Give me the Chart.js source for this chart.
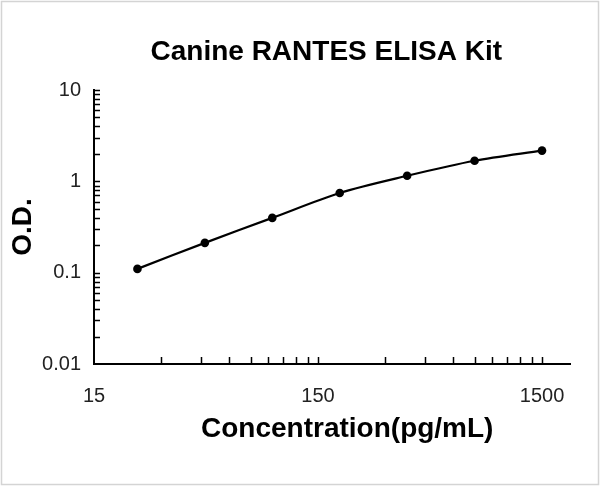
<!DOCTYPE html>
<html>
<head>
<meta charset="utf-8">
<script src="https://cdn.jsdelivr.net/npm/chart.js@4"></script>
<style>
  html, body { margin:0; padding:0; background:#fff; }
  canvas { display:block; }
</style>
</head>
<body>
<canvas id="c" width="600" height="486"></canvas>
<script>
// standard curve readings
const conc = [23.44, 46.88, 93.75, 187.5, 375, 750, 1500];
const od   = [0.110, 0.212, 0.398, 0.746, 1.15, 1.68, 2.17];

// axis ticks
const xMajor = [15, 150, 1500];
const xMinor = [30, 45, 60, 75, 90, 105, 120, 135, 300, 450, 600, 750, 900, 1050, 1200, 1350];
const yMajor = [0.01, 0.1, 1, 10];
const yMinor = [0.02, 0.03, 0.04, 0.05, 0.06, 0.07, 0.08, 0.09,
                0.2, 0.3, 0.4, 0.5, 0.6, 0.7, 0.8, 0.9,
                2, 3, 4, 5, 6, 7, 8, 9];

const chartTitle = 'Canine RANTES ELISA Kit';
const xTitle = 'Concentration(pg/mL)';
const yTitle = 'O.D.';

const FAM = '"Liberation Sans", Arial, sans-serif';
const tickFont = { family:FAM, size:20 };
const boldFont = s => ({ family:FAM, size:s, weight:'bold' });

const setTicks = (major, minor) => scale => {
  scale.ticks = [...major, ...minor].sort((a,b)=>a-b).map(v => ({ value:v, major: major.includes(v) }));
};

// white page + thin grey frame like the exported image
const frame = {
  id:'frame',
  beforeDraw(chart){
    const c = chart.ctx;
    c.save();
    c.fillStyle = '#fff';
    c.fillRect(0, 0, chart.width, chart.height);
    c.strokeStyle = '#d4d4d4';
    c.lineWidth = 1.5;
    c.strokeRect(1.5, 1.5, chart.width - 3, chart.height - 3);
    c.restore();
  }
};

// chart title and x title sit a little right of the plot centre in the original
const headings = {
  id:'headings',
  afterDraw(chart){
    const c = chart.ctx, a = chart.chartArea;
    c.save();
    c.fillStyle = '#000';
    c.textAlign = 'center';
    c.textBaseline = 'middle';
    c.font = `bold 28px ${FAM}`;
    c.fillText(chartTitle, a.left + (a.right - a.left) * 0.488, a.top - 38);
    c.fillText(xTitle, a.left + (a.right - a.left) * 0.532, a.bottom + 65);
    c.restore();
  }
};

// tick marks pointing into the plot
const innerTicks = {
  id:'innerTicks',
  afterDraw(chart){
    const c = chart.ctx, xs = chart.scales.x, ys = chart.scales.y;
    const a = chart.chartArea;
    c.save();
    c.strokeStyle = '#000';
    c.lineWidth = 1.5;
    c.beginPath();
    xs.ticks.forEach(t => {
      if (t.value === xs.min) return;
      const px = Math.round(xs.getPixelForValue(t.value)) + 0.5;
      c.moveTo(px, a.bottom); c.lineTo(px, a.bottom - 7);
    });
    ys.ticks.forEach(t => {
      if (t.value === ys.min) return;
      const py = Math.round(ys.getPixelForValue(t.value)) + 0.5;
      c.moveTo(a.left, py); c.lineTo(a.left + 6, py);
    });
    c.stroke();
    c.restore();
  }
};

new Chart(document.getElementById('c'), {
  type:'line',
  data:{
    datasets:[{
      data: conc.map((x,i) => ({ x, y: od[i] })),
      borderColor:'#000',
      backgroundColor:'#000',
      borderWidth:2.2,
      pointRadius:4.3,
      pointBackgroundColor:'#000',
      pointBorderWidth:0,
      tension:0.3,
      fill:false
    }]
  },
  options:{
    responsive:false,
    animation:false,
    devicePixelRatio:1,
    layout:{ padding:{ left:0, right:30, top:90, bottom:0 } },
    plugins:{
      legend:{ display:false },
      tooltip:{ enabled:false },
      title:{ display:false }
    },
    scales:{
      x:{
        type:'logarithmic',
        min:15, max:2000,
        afterBuildTicks: setTicks(xMajor, xMinor),
        afterFit: s => { s.height = 122; },
        grid:{ display:false, drawTicks:false },
        border:{ display:true, color:'#000', width:2 },
        ticks:{
          autoSkip:false, maxRotation:0, padding:20,
          color:'#222', font:tickFont,
          callback: v => xMajor.includes(v) ? String(v) : ''
        },
        title:{ display:false }
      },
      y:{
        type:'logarithmic',
        min:0.01, max:10,
        afterBuildTicks: setTicks(yMajor, yMinor),
        afterFit: s => { s.width = 94; },
        grid:{ display:false, drawTicks:false },
        border:{ display:true, color:'#000', width:2 },
        ticks:{
          autoSkip:false, padding:13,
          color:'#222', font:tickFont,
          callback: v => yMajor.includes(v) ? String(v) : ''
        },
        title:{
          display:true, text:yTitle,
          color:'#000', font: boldFont(28),
          padding:{ top:6, bottom:0 }
        }
      }
    }
  },
  plugins:[frame, headings, innerTicks]
});
</script>
</body>
</html>
